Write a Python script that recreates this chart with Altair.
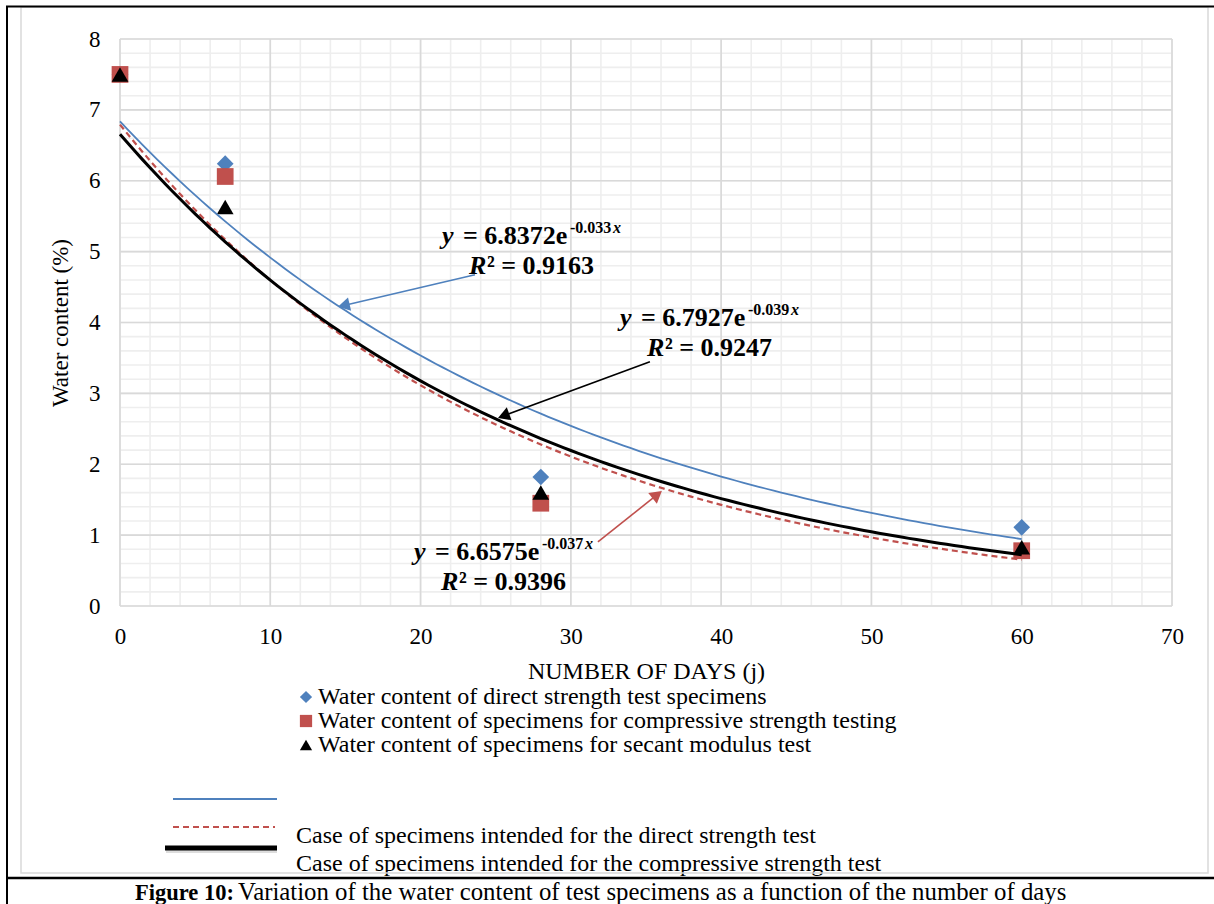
import math
import altair as alt
import pandas as pd

# ---------------- data ----------------
days = [0, 7, 28, 60]
wc_direct = [7.5, 6.24, 1.82, 1.11]
wc_compressive = [7.5, 6.06, 1.45, 0.78]
wc_secant = [7.5, 5.63, 1.60, 0.83]
series_names = [
    "Water content of direct strength test specimens",
    "Water content of specimens for compressive strength testing",
    "Water content of specimens for secant modulus test",
]

# exponential trend lines as drawn (blue solid, red dashed, black thick)
trend_a = [6.8372, 6.7927, 6.6575]
trend_b = [-0.033, -0.039, -0.037]

# equation labels as printed (blue arrow, black arrow, red arrow)
eq_coef = ["6.8372", "6.7927", "6.6575"]
eq_exp = ["-0.033", "-0.039", "-0.037"]
eq_r2 = ["0.9163", "0.9247", "0.9396"]
eq_x = [21.42, 33.27, 19.56]
eq_y = [5.111, 3.953, 0.649]

# arrows (start -> tip), data units
arrow_x1 = [23.62, 35.26, 31.80]
arrow_y1 = [4.673, 3.445, 0.904]
arrow_x2 = [14.50, 25.15, 36.06]
arrow_y2 = [4.221, 2.654, 1.624]
arrow_col = ["#4f81bd", "#000000", "#c0504d"]

x_ticks = [0, 10, 20, 30, 40, 50, 60, 70]
y_ticks = [0, 1, 2, 3, 4, 5, 6, 7, 8]
x_minor = list(range(0, 71, 2))
y_minor = [round(i * 0.2, 1) for i in range(0, 41)]

legend_line_labels = [
    "Case of specimens intended for the direct strength test",
    "Case of specimens intended for the compressive strength test",
]
caption_bold = "Figure 10:"
caption_text = "Variation of the water content of test specimens as a function of the number of days"

# ---------------- layout ----------------
W, H = 1052, 567
PL, PT = 120, 39
FONT = "Liberation Serif"
BLUE, RED, BLACK = "#4f81bd", "#c0504d", "#000000"

xs = alt.Scale(domain=[0, 70], nice=False, zero=False)
ys = alt.Scale(domain=[0, 8], nice=False, zero=False)

XAX = alt.Axis(
    values=x_ticks, title="NUMBER OF DAYS (j)", grid=False, ticks=False, domain=False,
    labelFont=FONT, labelFontSize=23, labelColor="black", labelPadding=19, labelFlush=False,
    labelOverlap=False, titleFont=FONT, titleFontSize=24, titleFontWeight="normal",
    titleColor="black", titlePadding=11)
YAX = alt.Axis(
    values=y_ticks, title="Water content (%)", grid=False, ticks=False, domain=False,
    labelFont=FONT, labelFontSize=23, labelColor="black", labelPadding=20,
    labelOverlap=False, titleFont=FONT, titleFontSize=23, titleFontWeight="normal",
    titleColor="black", titlePadding=16)


def X(f):
    return alt.X(f, scale=xs, axis=XAX)


def Y(f):
    return alt.Y(f, scale=ys, axis=YAX)


# grid
gx_minor = alt.Chart(pd.DataFrame({"g": x_minor})).mark_rule(color="#eeeeee", strokeWidth=1.6).encode(x=X("g:Q"))
gy_minor = alt.Chart(pd.DataFrame({"g": y_minor})).mark_rule(color="#eeeeee", strokeWidth=1.6).encode(y=Y("g:Q"))
gx_major = alt.Chart(pd.DataFrame({"g": x_ticks})).mark_rule(color="#d9d9d9", strokeWidth=1.6).encode(x=X("g:Q"))
gy_major = alt.Chart(pd.DataFrame({"g": y_ticks})).mark_rule(color="#d9d9d9", strokeWidth=1.6).encode(y=Y("g:Q"))

# points
pts = pd.DataFrame({
    "day": days * 3,
    "wc": wc_direct + wc_compressive + wc_secant,
    "series": [series_names[0]] * 4 + [series_names[1]] * 4 + [series_names[2]] * 4,
})
leg = alt.Legend(title=None, orient="none", legendX=174, legendY=646, labelFont=FONT,
                 labelFontSize=24, labelColor="black", labelLimit=800, labelOffset=0,
                 rowPadding=0, padding=0, symbolSize=150, symbolStrokeWidth=0)
points = alt.Chart(pts).mark_point(filled=True, opacity=1, size=280).encode(
    x=X("day:Q"), y=Y("wc:Q"),
    color=alt.Color("series:N", scale=alt.Scale(domain=series_names, range=[BLUE, RED, BLACK]), legend=leg),
    shape=alt.Shape("series:N", scale=alt.Scale(domain=series_names, range=["diamond", "square", "triangle-up"]), legend=leg),
)


def trend(i, **style):
    return alt.Chart(alt.sequence(0, 60.01, 0.5, as_="day")).transform_calculate(
        wc=f"{trend_a[i]}*exp({trend_b[i]}*datum.day)"
    ).mark_line(**style).encode(x=X("day:Q"), y=Y("wc:Q"))


line_blue = trend(0, color=BLUE, strokeWidth=1.8)
line_red = trend(1, color=RED, strokeWidth=2.2, strokeDash=[6, 4])
line_black = trend(2, color=BLACK, strokeWidth=3)

# arrows
sx, sy = W / 70, H / 8
hx, hy, ang = [], [], []
for x1, y1, x2, y2 in zip(arrow_x1, arrow_y1, arrow_x2, arrow_y2):
    dxp, dyp = (x2 - x1) * sx, -(y2 - y1) * sy
    L = math.hypot(dxp, dyp)
    ux, uy = dxp / L, dyp / L
    hx.append(x2 - 6 * ux / sx)
    hy.append(y2 + 6 * uy / sy)
    ang.append(math.degrees(math.atan2(ux, -uy)) % 360)
adf = pd.DataFrame({"x1": arrow_x1, "y1": arrow_y1, "hx": hx, "hy": hy, "ang": ang, "c": arrow_col})
arrow_shaft = alt.Chart(adf).mark_rule(strokeWidth=1.6).encode(
    x=X("x1:Q"), y=Y("y1:Q"), x2="hx:Q", y2="hy:Q", color=alt.Color("c:N", scale=None))
arrow_head = alt.Chart(adf).mark_point(shape="triangle-up", filled=True, opacity=1, size=190).encode(
    x=X("hx:Q"), y=Y("hy:Q"), angle=alt.Angle("ang:Q", scale=None), color=alt.Color("c:N", scale=None))

# equations
edf = pd.DataFrame({
    "ex": eq_x, "ey": eq_y,
    "main": ["= " + c + "e" for c in eq_coef],
    "sup": eq_exp,
    "r2": ["\u00b2 = " + r for r in eq_r2],
})


def piece(dx, dy, size, italic, text=None, field=None):
    kw = dict(align="left", baseline="alphabetic", dx=dx, dy=dy, font=FONT, fontSize=size,
              fontWeight="bold", fontStyle="italic" if italic else "normal", color="black")
    if text is not None:
        kw["text"] = text
    enc = dict(x=X("ex:Q"), y=Y("ey:Q"))
    if field is not None:
        enc["text"] = alt.Text(field + ":N")
    return alt.Chart(edf).mark_text(**kw).encode(**enc)


eq_layers = [
    piece(0, 0, 26, True, text="y"),
    piece(21, 0, 26, False, field="main"),
    piece(128, -11, 16, False, field="sup"),
    piece(171, -11, 16, True, text="x"),
    piece(27, 30, 26, True, text="R"),
    piece(45, 30, 26, False, field="r2"),
]


# line legend (manual, as in the figure) and page decorations
def hrule(x1, x2, y, **style):
    return alt.Chart(pd.DataFrame({"k": [0]})).mark_rule(**style).encode(
        x=alt.value(x1), x2=alt.value(x2), y=alt.value(y))


def label(txt, x, y, size, weight="normal", baseline="middle"):
    return alt.Chart(pd.DataFrame({"k": [0]})).mark_text(
        text=txt, align="left", baseline=baseline, font=FONT, fontSize=size,
        fontWeight=weight, color="black").encode(x=alt.value(x), y=alt.value(y))


deco = [
    hrule(53, 157, 760, color=BLUE, strokeWidth=2),
    hrule(53, 155, 788, color=RED, strokeWidth=2, strokeDash=[6, 4]),
    hrule(46, 157, 812, color="#bbbbbb", strokeWidth=4, opacity=0.5),
    hrule(45, 157, 809, color=BLACK, strokeWidth=5),
    label(legend_line_labels[0], 176, 797, 24),
    label(legend_line_labels[1], 176, 825, 24),
    alt.Chart(pd.DataFrame({"k": [0]})).mark_rect(fillOpacity=0, stroke="#d9d9d9", strokeWidth=1.5).encode(
        x=alt.value(-99), x2=alt.value(1088), y=alt.value(-32), y2=alt.value(834)),
    hrule(-114, 1094, -32.5, color="black", strokeWidth=2),
    hrule(-114, 1094, 839, color="black", strokeWidth=2.5),
    alt.Chart(pd.DataFrame({"k": [0]})).mark_rule(color="black", strokeWidth=2).encode(
        x=alt.value(-113), y=alt.value(-33), y2=alt.value(866)),
    label(caption_bold, 15, 861, 22.5, weight="bold", baseline="alphabetic"),
    label(caption_text, 118, 861, 24.8, baseline="alphabetic"),
]

chart = alt.layer(
    gx_minor, gy_minor, gx_major, gy_major, points, line_blue, line_red, line_black,
    arrow_shaft, arrow_head, *eq_layers, *deco,
).properties(
    width=W, height=H, autosize=alt.AutoSizeParams(type="none"),
    padding={"left": PL, "top": PT, "right": 1214 - PL - W, "bottom": 904 - PT - H},
    background="white",
).configure_view(stroke=None)

chart.save("out.html", embed_options={"renderer": "svg", "actions": False})
